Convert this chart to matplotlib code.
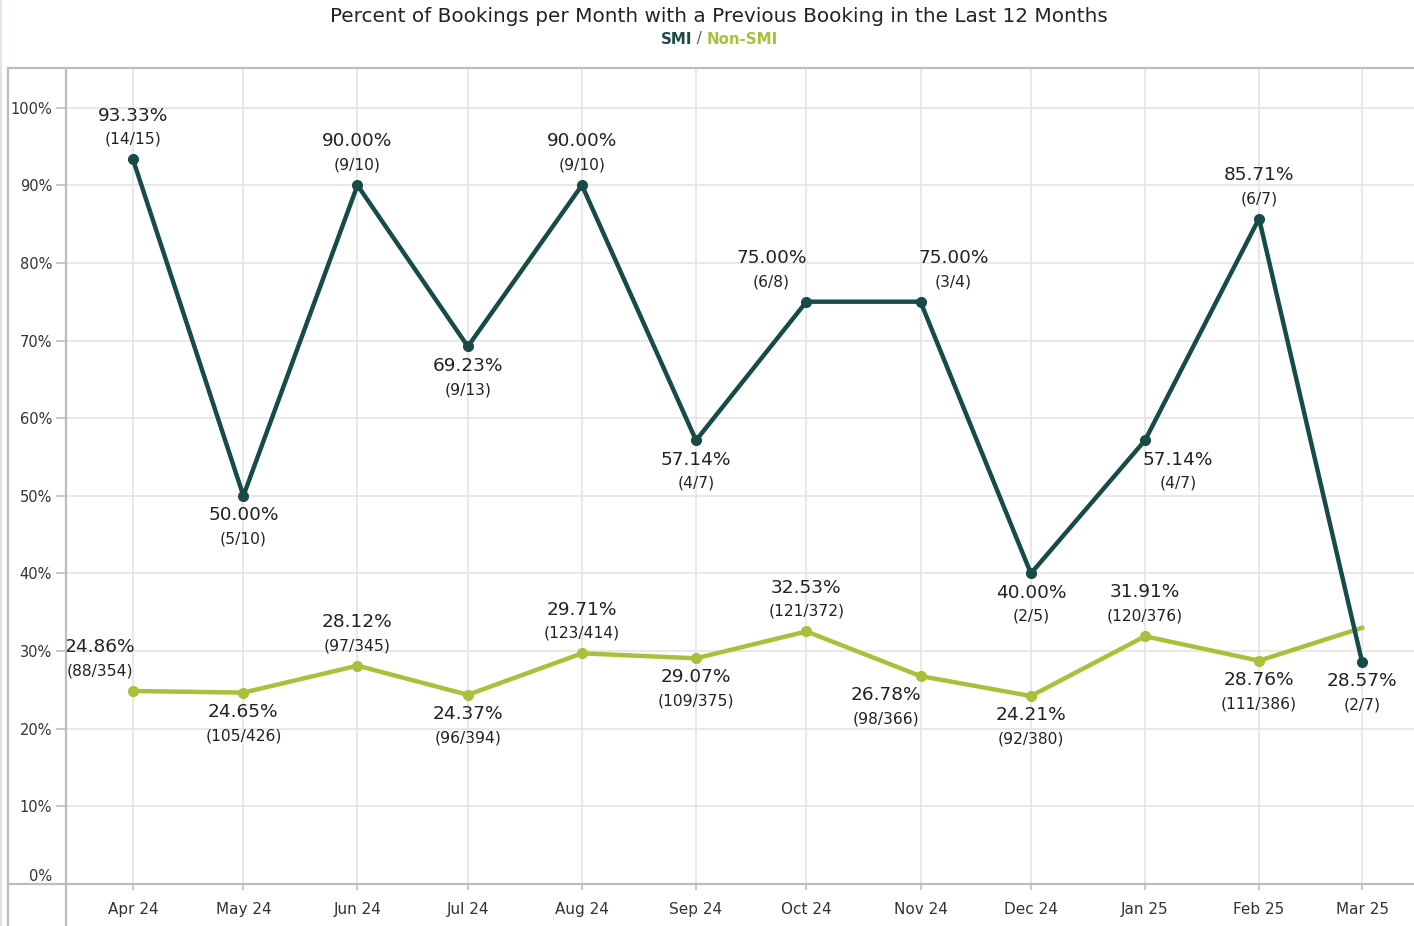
import matplotlib.pyplot as plt
import matplotlib.dates as mdates
from matplotlib.lines import Line2D
import numpy as np
import datetime as dt

months = ['2024-04-01', '2024-05-01', '2024-06-01', '2024-07-01', '2024-08-01', '2024-09-01',
          '2024-10-01', '2024-11-01', '2024-12-01', '2025-01-01', '2025-02-01', '2025-03-01']
month_labels = ['Apr 24', 'May 24', 'Jun 24', 'Jul 24', 'Aug 24', 'Sep 24',
                'Oct 24', 'Nov 24', 'Dec 24', 'Jan 25', 'Feb 25', 'Mar 25']

smi_pct = [93.33, 50.00, 90.00, 69.23, 90.00, 57.14, 75.00, 75.00, 40.00, 57.14, 85.71, 28.57]
smi_frac = ['14/15', '5/10', '9/10', '9/13', '9/10', '4/7', '6/8', '3/4', '2/5', '4/7', '6/7', '2/7']

non_pct = [24.86, 24.65, 28.12, 24.37, 29.71, 29.07, 32.53, 26.78, 24.21, 31.91, 28.76, 33.0]
non_frac = ['88/354', '105/426', '97/345', '96/394', '123/414', '109/375', '121/372',
            '98/366', '92/380', '120/376', '111/386', None]

# label placement: 'a' above, 'b' below, with horizontal shift in px
smi_place = [('a', 0), ('b', 0), ('a', 0), ('b', 0), ('a', 0), ('b', 0),
             ('a', -35), ('a', 33), ('b', 0), ('b', 33), ('a', 0), ('b', 0)]
non_place = [('a', -33), ('b', 0), ('a', 0), ('b', 0), ('a', 0), ('b', 0),
             ('a', 0), ('b', -35), ('b', 0), ('a', 0), ('b', 0), None]

SMI_COL = '#174b48'
NON_COL = '#a5c23a'
FRAME = '#bdbdbd'
GRID = '#e6e6e6'
FONT = 'DejaVu Sans'

plt.rcParams['font.family'] = FONT

W, H = 1414, 926
fig = plt.figure(figsize=(W / 100, H / 100), dpi=100)


def fx(px):
    return px / W


def fy(py):
    return 1 - py / H


ax = fig.add_axes([fx(66), fy(884), fx(1414 - 66), (884 - 68) / H])

dates = [dt.datetime.strptime(m, '%Y-%m-%d') for m in months]
xd = mdates.date2num(dates)

ax.plot(xd, smi_pct, color=SMI_COL, lw=3.2, marker='o', ms=7, zorder=3, solid_joinstyle='round')
ax.plot(xd[:-1], non_pct[:-1], color=NON_COL, lw=3.2, marker='o', ms=7, zorder=2)
ax.plot(xd[-2:], non_pct[-2:], color=NON_COL, lw=3.2, zorder=2)

ax.set_xlim(xd[0] - 18.2, xd[-1] + 14.1)
ax.set_ylim(0, 105.1)

ax.set_xticks(xd)
ax.set_xticklabels(month_labels, fontsize=11, color='#333333')
ax.set_yticks(np.arange(0, 101, 10))
ax.set_yticklabels([f'{v}%' for v in range(0, 101, 10)], fontsize=10.5, color='#333333')
ax.get_yticklabels()[0].set_verticalalignment('bottom')

ax.tick_params(axis='x', length=4, width=1.2, color=FRAME, pad=9)
ax.tick_params(axis='y', length=7, width=1.2, color=FRAME, pad=3)
ax.grid(True, color=GRID, lw=1.3)
ax.set_axisbelow(True)
for s in ax.spines.values():
    s.set_visible(False)


def put_labels(pcts, fracs, places):
    for x, p, f, pl in zip(xd, pcts, fracs, places):
        if f is None:
            continue
        side, dx = pl
        dxp = dx * 0.72
        if side == 'a':
            v_off, f_off = 31.5, 14.4
        else:
            v_off, f_off = -13.8, -31.0
        ax.annotate(f'{p:.2f}%', (x, p), xytext=(dxp, v_off), textcoords='offset points',
                    ha='center', va='center', fontsize=13.3, color='#222222', zorder=5)
        ax.annotate(f'({f})', (x, p), xytext=(dxp, f_off), textcoords='offset points',
                    ha='center', va='center', fontsize=11.2, color='#222222', zorder=5)


put_labels(smi_pct, smi_frac, smi_place)
put_labels(non_pct, non_frac, non_place)

# tableau-like frame lines
frame_lines = [
    ((8, 1414), (68, 68)),
    ((8, 8), (68, 926)),
    ((8, 1414), (884, 884)),
    ((66, 66), (68, 926)),
]
for xs, ys in frame_lines:
    fig.add_artist(Line2D([fx(v) for v in xs], [fy(v) for v in ys], color=FRAME, lw=1.6))
fig.add_artist(Line2D([fx(1), fx(1)], [0, 1], color='#dde6e6', lw=1.5))

fig.text(fx(719), fy(17), 'Percent of Bookings per Month with a Previous Booking in the Last 12 Months',
         ha='center', va='center', fontsize=14.4, color='#222222')

# coloured subtitle
fig.canvas.draw()
r = fig.canvas.get_renderer()
parts = [('SMI', SMI_COL, 'bold'), (' / ', '#555555', 'normal'), ('Non-SMI', NON_COL, 'bold')]
texts = [fig.text(0, fy(39), s, color=c, fontweight=w, fontsize=10.8, va='center') for s, c, w in parts]
widths = [t.get_window_extent(r).width for t in texts]
x0 = 719 - sum(widths) / 2
for t, wd in zip(texts, widths):
    t.set_x(fx(x0))
    x0 += wd

fig.savefig('out.png', dpi=100)
